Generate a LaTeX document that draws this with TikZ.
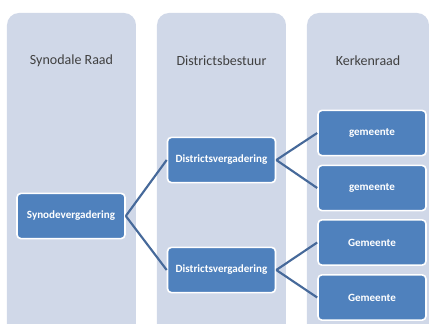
\documentclass[tikz,border=0pt]{standalone}
\usepackage{fontspec}
\setmainfont{Carlito}
\usetikzlibrary{positioning}
\definecolor{colbg}{HTML}{D0D8E8}
\definecolor{boxblue}{HTML}{4F81BD}
\definecolor{linkblue}{HTML}{46699A}
\definecolor{titlegray}{HTML}{404040}

\begin{document}
\begin{tikzpicture}[
    x=0.75pt, y=-0.75pt,
    column/.style={
        fill=colbg, draw=none,
        rounded corners=9pt
    },
    title/.style={
        text=titlegray,
        font=\fontsize{10.5}{12}\selectfont
    },
    box/.style={
        rectangle, rounded corners=3pt,
        fill=boxblue, draw=white,
        line width=1.2pt,
        minimum width=81pt, minimum height=34pt,
        text=white, align=center,
        font=\fontsize{8.3}{10}\selectfont\bfseries
    },
    link/.style={draw=linkblue, line width=1.6pt}
]
\clip (0,0) rectangle (430,324);
\fill[white] (0,0) rectangle (430,324);

% columns
\fill[column] (7,13) rectangle (136,360);
\fill[column] (157,13) rectangle (286,360);
\fill[column] (307,13) rectangle (429,360);

\node[title] (synode)   at (71.5,61)  {Synodale Raad};
\node[title] (district) at (221.5,61) {Districtsbestuur};
\node[title] (kerk)     at (368,61)   {Kerkenraad};

% boxes
\node[box] (sv)  at (71,216)  {Synodevergadering};
\node[box] (dv1) at (221.5,160) {Districtsvergadering};
\node[box] (dv2) at (221.5,270) {Districtsvergadering};
\node[box] (g1)  at (372,133) {gemeente};
\node[box] (g2)  at (372,188) {gemeente};
\node[box] (g3)  at (372,242.5) {Gemeente};
\node[box] (g4)  at (372,297.5) {Gemeente};

% links
\draw[link] (sv.east) -- (dv1.west);
\draw[link] (sv.east) -- (dv2.west);
\draw[link] (dv1.east) -- (g1.west);
\draw[link] (dv1.east) -- (g2.west);
\draw[link] (dv2.east) -- (g3.west);
\draw[link] (dv2.east) -- (g4.west);
\end{tikzpicture}
\end{document}
